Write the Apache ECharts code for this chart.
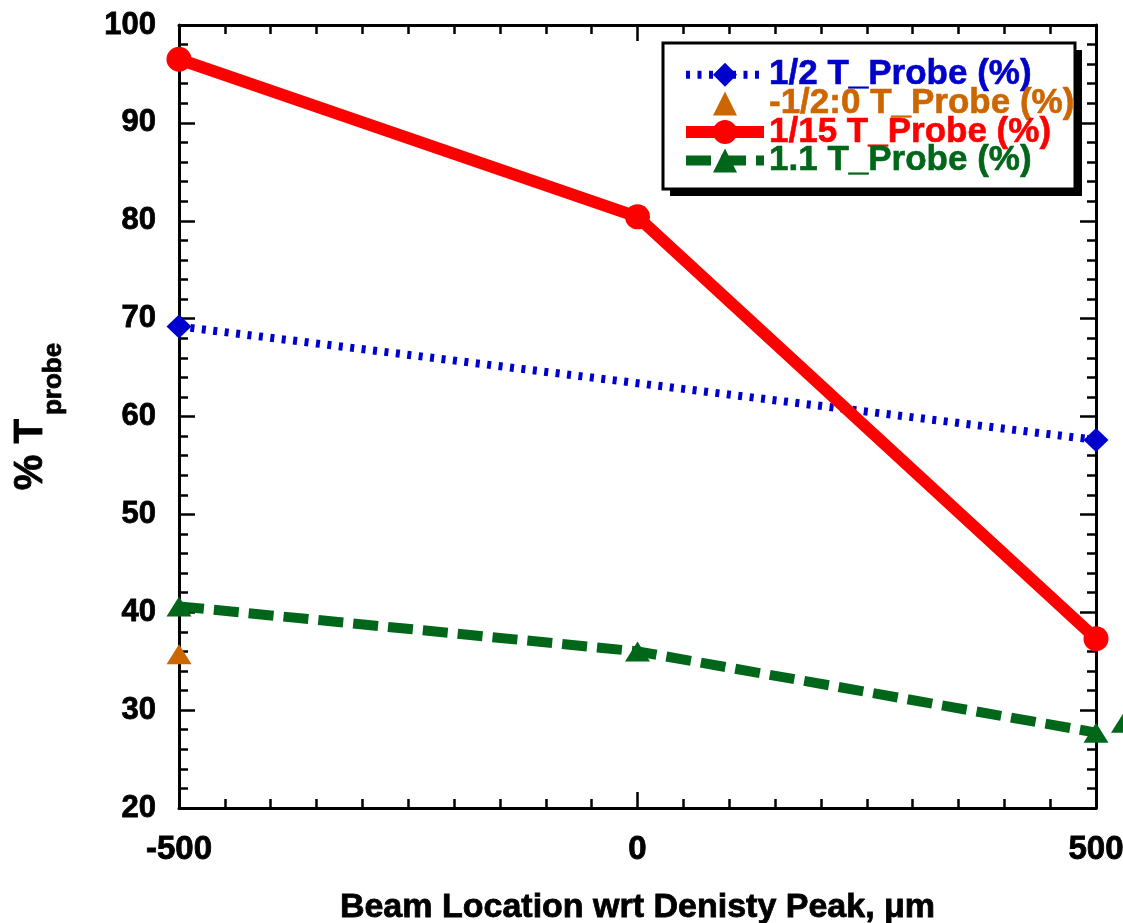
<!DOCTYPE html>
<html>
<head>
<meta charset="utf-8">
<script src="https://cdn.jsdelivr.net/npm/echarts@6/dist/echarts.min.js"></script>
<style>
  html, body { margin: 0; padding: 0; background: #fff; }
  #chart { width: 1123px; height: 923px; }
</style>
</head>
<body>
<div id="chart"></div>
<script>
// Beam location relative to the density peak (µm)
const beamLocation = [-500, 0, 500];

// Transmitted probe fraction (%) per probe timing
const halfTProbe = [69.2, null, 57.6];
const negHalfToZeroTProbe = [35.7, null, null];
const fifteenthTProbe = [96.5, 80.4, 37.3];
const onePointOneTProbe = [40.6, 36.0, 27.7];
// stray 1.1 T point just past the last location
const onePointOneExtraX = [530];
const onePointOneExtra = [28.7];

const xTicks = [-500, 0, 500];
const yTicks = [20, 30, 40, 50, 60, 70, 80, 90, 100];

const seriesNames = ['1/2 T_Probe (%)', '-1/2:0 T_Probe (%)', '1/15 T_Probe (%)', '1.1 T_Probe (%)'];
const colors = ['#0000CC', '#CC6600', '#FF0000', '#006619'];

function pairs(xs, ys) {
  const out = [];
  xs.forEach((x, i) => { if (ys[i] !== null && ys[i] !== undefined) out.push([x, ys[i]]); });
  return out;
}

const FONT = '"Liberation Sans", Arial, Helvetica, sans-serif';

const lineStyles = [
  { color: colors[0], width: 8, type: [4, 7.5] },
  { color: colors[1], width: 0, opacity: 0 },
  { color: colors[2], width: 12 },
  { color: colors[3], width: 10, type: [25, 10] }
];

const baseAxis = {
  axisLine: { show: true, onZero: false, lineStyle: { color: '#000', width: 3 } },
  axisTick: { show: true, inside: true, length: 16, lineStyle: { color: '#000', width: 2.5 } },
  minorTick: { show: true, length: 9, lineStyle: { color: '#000', width: 2.5 } },
  splitLine: { show: false },
  minorSplitLine: { show: false }
};

const labelFont = {
  color: '#000', fontWeight: 'bold', fontFamily: FONT,
  textBorderColor: '#000', textBorderWidth: 0.8
};

const chart = echarts.init(document.getElementById('chart'), null, { renderer: 'canvas' });

chart.setOption({
  animation: false,
  backgroundColor: '#fff',
  grid: { left: 179, right: 27, top: 25, bottom: 115, containLabel: false, outerBoundsMode: 'none' },
  graphic: [
    { type: 'rect', z: 90, shape: { x: 670, y: 50, width: 412, height: 146 }, style: { fill: '#000' } },
    { type: 'rect', z: 91, shape: { x: 663, y: 43, width: 412, height: 146 }, style: { fill: '#fff', stroke: '#000', lineWidth: 3 } }
  ],
  legend: {
    z: 100,
    orient: 'vertical',
    left: 680,
    top: 57,
    padding: 0,
    itemGap: -7,
    itemWidth: 78,
    itemHeight: 30,
    itemStyle: { borderWidth: 0 },
    data: seriesNames.map((n, i) => ({
      name: n,
      lineStyle: lineStyles[i],
      textStyle: {
        color: colors[i], fontSize: 35, fontWeight: 'bold', fontFamily: FONT, lineHeight: 28,
        textBorderColor: colors[i], textBorderWidth: 0.6
      }
    }))
  },
  xAxis: [
    Object.assign({}, baseAxis, {
      type: 'value', position: 'bottom',
      min: -500, max: 500, interval: 500,
      minorTick: Object.assign({}, baseAxis.minorTick, { splitNumber: 10 }),
      axisLabel: Object.assign({ margin: 25, fontSize: 33,
        formatter: v => (xTicks.indexOf(v) > -1 ? String(v) : '') }, labelFont),
      name: 'Beam Location wrt Denisty Peak, \u03BCm',
      nameLocation: 'middle',
      nameGap: 83,
      nameTextStyle: Object.assign({ fontSize: 34 }, labelFont)
    }),
    Object.assign({}, baseAxis, {
      type: 'value', position: 'top',
      min: -500, max: 500, interval: 500,
      minorTick: Object.assign({}, baseAxis.minorTick, { splitNumber: 10 }),
      axisLabel: { show: false }
    })
  ],
  yAxis: [
    Object.assign({}, baseAxis, {
      type: 'value', position: 'left',
      min: 20, max: 100, interval: 10,
      minorTick: Object.assign({}, baseAxis.minorTick, { splitNumber: 5 }),
      axisLabel: Object.assign({ margin: 23, fontSize: 31,
        formatter: v => (yTicks.indexOf(v) > -1 ? String(v) : '') }, labelFont),
      name: '{main|% T}{sub|probe}',
      nameLocation: 'middle',
      nameRotate: 90,
      nameGap: 128,
      nameTextStyle: Object.assign({
        fontSize: 40,
        rich: {
          main: Object.assign({ fontSize: 40, lineHeight: 40, verticalAlign: 'top' }, labelFont),
          sub: Object.assign({ fontSize: 26, lineHeight: 26, verticalAlign: 'top', padding: [30, 0, 0, 4] }, labelFont)
        }
      }, labelFont)
    }),
    Object.assign({}, baseAxis, {
      type: 'value', position: 'right',
      min: 20, max: 100, interval: 10,
      minorTick: Object.assign({}, baseAxis.minorTick, { splitNumber: 5 }),
      axisLabel: { show: false }
    })
  ],
  series: [
    {
      name: seriesNames[0], type: 'line', clip: false, z: 3,
      data: pairs(beamLocation, halfTProbe),
      symbol: 'diamond', symbolSize: [25, 24],
      itemStyle: { color: colors[0] },
      lineStyle: lineStyles[0]
    },
    {
      name: seriesNames[1], type: 'line', clip: false, z: 3,
      data: pairs(beamLocation, negHalfToZeroTProbe),
      symbol: 'triangle', symbolSize: [25, 20],
      itemStyle: { color: colors[1] },
      lineStyle: lineStyles[1]
    },
    {
      name: seriesNames[2], type: 'line', clip: false, z: 4,
      data: pairs(beamLocation, fifteenthTProbe),
      symbol: 'circle', symbolSize: 25,
      itemStyle: { color: colors[2] },
      lineStyle: lineStyles[2]
    },
    {
      name: seriesNames[3], type: 'line', clip: false, z: 3,
      data: pairs(beamLocation, onePointOneTProbe),
      symbol: 'triangle', symbolSize: [25, 20],
      itemStyle: { color: colors[3] },
      lineStyle: lineStyles[3]
    },
    {
      name: '1.1 extra', type: 'scatter', clip: false, z: 3,
      data: pairs(onePointOneExtraX, onePointOneExtra),
      symbol: 'triangle', symbolSize: [25, 20],
      itemStyle: { color: colors[3], opacity: 1 }
    }
  ]
});
</script>
</body>
</html>
